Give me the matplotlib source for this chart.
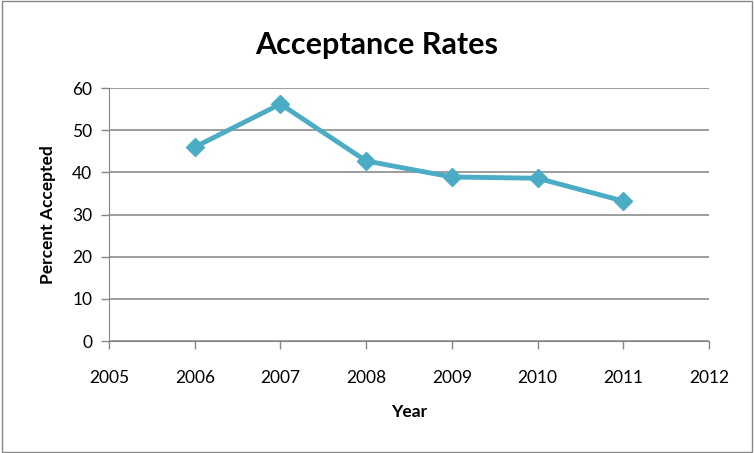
import matplotlib.pyplot as plt
from matplotlib.patches import Rectangle

# Data
years = [2006, 2007, 2008, 2009, 2010, 2011]
accepted = [46.0, 56.2, 42.7, 38.9, 38.6, 33.2]
x_ticks = [2005, 2006, 2007, 2008, 2009, 2010, 2011, 2012]
y_ticks = [0, 10, 20, 30, 40, 50, 60]

plt.rcParams['font.family'] = ['Lato', 'DejaVu Sans']

fig = plt.figure(figsize=(7.54, 4.53), dpi=100)
ax = fig.add_axes([0.1446, 0.2472, 0.7957, 0.5585])

ax.plot(years, accepted, '-D', color='#4BACC6', linewidth=3.5, markersize=9)

ax.set_xlim(2005, 2012)
ax.set_ylim(0, 60)
ax.set_xticks(x_ticks)
ax.set_yticks(y_ticks)
ax.tick_params(labelsize=12.5, colors='black', length=6, width=1, direction='out')
ax.tick_params(axis='x', pad=15, color='#868686')
ax.tick_params(axis='y', pad=6, color='#868686')
ax.grid(axis='y', color='#8c8c8c', linewidth=1.2)
ax.set_axisbelow(True)
for s in ['top', 'right']:
    ax.spines[s].set_visible(False)
for s in ['left', 'bottom']:
    ax.spines[s].set_color('#868686')

fig.text(0.5, 0.9, 'Acceptance Rates', fontsize=22, fontweight='bold',
         ha='center', va='center')
ax.set_xlabel('Year', fontsize=12.5, fontweight='bold', labelpad=13)
ax.set_ylabel('Percent Accepted', fontsize=12.5, fontweight='bold', labelpad=12)

fig.patches.append(Rectangle((0.002, 0.003), 0.996, 0.994, transform=fig.transFigure,
                             fill=False, edgecolor='#868686', linewidth=1))

fig.savefig('out.png', dpi=100)
